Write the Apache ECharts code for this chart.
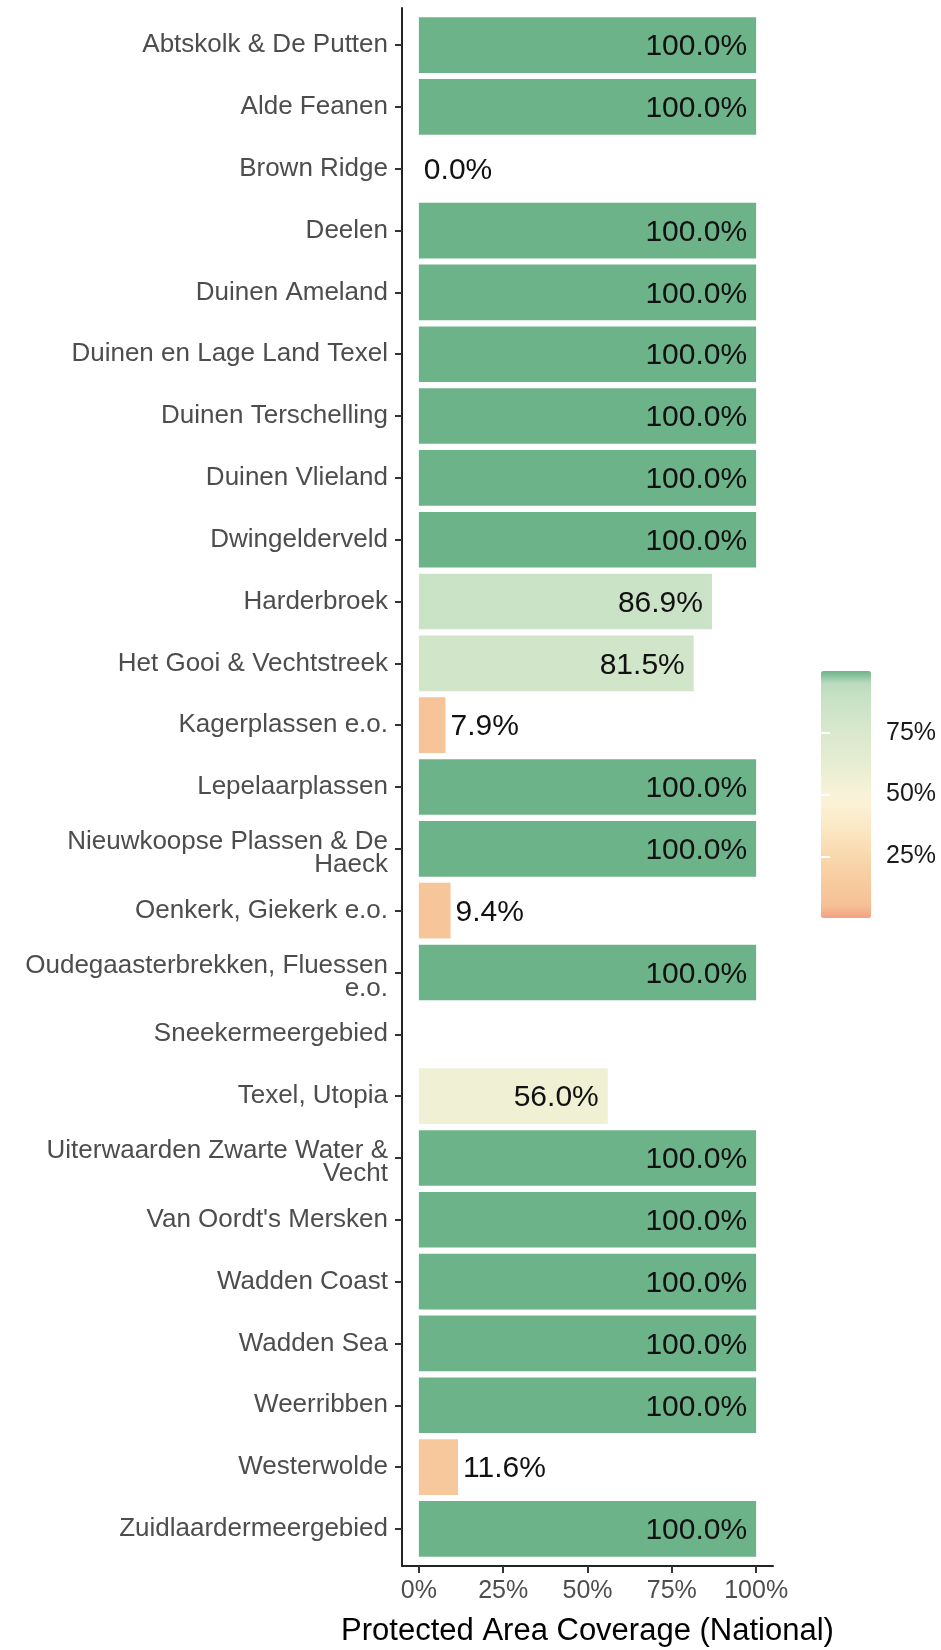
<!DOCTYPE html>
<html>
<head>
<meta charset="utf-8">
<script src="https://cdn.jsdelivr.net/npm/echarts@6/dist/echarts.min.js"></script>
<style>
html,body{margin:0;padding:0;background:#fff;}
#chart{width:941px;height:1650px;}
</style>
</head>
<body>
<div id="chart"></div>
<script>
// ---- data ----
const categories = [
  "Abtskolk & De Putten","Alde Feanen","Brown Ridge","Deelen","Duinen Ameland",
  "Duinen en Lage Land Texel","Duinen Terschelling","Duinen Vlieland","Dwingelderveld",
  "Harderbroek","Het Gooi & Vechtstreek","Kagerplassen e.o.","Lepelaarplassen",
  "Nieuwkoopse Plassen & De\nHaeck","Oenkerk, Giekerk e.o.","Oudegaasterbrekken, Fluessen\ne.o.",
  "Sneekermeergebied","Texel, Utopia","Uiterwaarden Zwarte Water &\nVecht","Van Oordt's Mersken",
  "Wadden Coast","Wadden Sea","Weerribben","Westerwolde","Zuidlaardermeergebied"
];
const coverage = [100,100,0,100,100,100,100,100,100,86.9,81.5,7.9,100,100,9.4,100,null,56.0,100,100,100,100,100,11.6,100];
const xTicks = [0,25,50,75,100];
const legendTicks = [25,50,75];

// colour scale (0..100 in 5% steps)
const scaleColors = ["#F2A084","#F5C196","#F6C69A","#F7CCA0","#F8D2A7","#F9D8AE","#FADFB8","#FBE6C2","#FBEBCB","#FBF0D3","#F9F3DA","#F0F0D4","#EAEED3","#E4ECD1","#DFEACF","#DAE8CD","#D3E6CA","#CDE3C7","#C6E0C4","#BBDBBE","#6DB38A"];

const FONT = "'Liberation Sans', Arial, sans-serif";
const catIdx = categories.map((c,i)=>i);
const seriesData = coverage.map((v,i)=>[v==null?'-':v, i]);

function catLabel(v){
  const c = categories[Math.round(v)];
  if (c === undefined) return '';
  if (c.indexOf('\n') < 0) return c;
  return '{s| }\n' + c.split('\n').map(l=>'{a|'+l+'}').join('\n');
}

const chart = echarts.init(document.getElementById('chart'), null, {renderer:'canvas'});
chart.setOption({
  backgroundColor:'#fff',
  animation:false,
  textStyle:{fontFamily:FONT},
  grid:[
    {left:402, top:8, width:371, height:1558, outerBoundsMode:'none', containLabel:false},
    {left:821, top:671, width:50, height:247, outerBoundsMode:'none', containLabel:false}
  ],
  xAxis:[
    {type:'value', gridIndex:0, min:-5, max:105,
     axisLine:{show:true, onZero:false, lineStyle:{color:'#222', width:2}},
     axisTick:{show:true, length:7, customValues:xTicks, lineStyle:{color:'#333', width:2}},
     axisLabel:{customValues:xTicks, formatter:v=>v+'%', fontSize:25, color:'#4D4D4D', margin:13, fontFamily:FONT},
     splitLine:{show:false},
     name:'Protected Area Coverage (National)', nameLocation:'middle', nameGap:50,
     nameTextStyle:{fontSize:31, color:'#000', fontFamily:FONT}},
    {type:'value', gridIndex:1, min:0, max:1, show:false}
  ],
  yAxis:[
    {type:'value', gridIndex:0, min:-0.6, max:24.6, inverse:true,
     axisLine:{show:true, onZero:false, lineStyle:{color:'#222', width:2}},
     axisTick:{show:true, length:7, customValues:catIdx, lineStyle:{color:'#333', width:2}},
     axisLabel:{customValues:catIdx, formatter:catLabel, fontSize:26, lineHeight:23, color:'#4D4D4D', margin:14, align:'right', fontFamily:FONT,
       rich:{
         a:{fontSize:26, lineHeight:23, color:'#4D4D4D', fontFamily:FONT, align:'right'},
         s:{fontSize:1, lineHeight:9, align:'right'}
       }},
     splitLine:{show:false}},
    {type:'value', gridIndex:1, min:0, max:100, position:'right', z:10,
     axisLine:{show:false},
     axisTick:{show:true, inside:true, length:9, customValues:legendTicks, lineStyle:{color:'#fff', width:2}},
     axisLabel:{customValues:legendTicks, formatter:v=>v+'%', fontSize:25, lineHeight:25, color:'#1a1a1a', margin:15, padding:[14,0,0,0], fontFamily:FONT},
     splitLine:{show:false}},
    {type:'value', gridIndex:1, min:0, max:100, position:'left', z:10,
     axisLine:{show:false},
     axisTick:{show:true, inside:true, length:9, customValues:legendTicks, lineStyle:{color:'#fff', width:2}},
     axisLabel:{show:false},
     splitLine:{show:false}}
  ],
  visualMap:{
    type:'continuous', min:0, max:100, dimension:0, seriesIndex:0,
    left:821, top:671, itemWidth:50, itemHeight:247, padding:0,
    calculable:false, text:null, showLabel:false, hoverLink:false, z:2,
    inRange:{color:scaleColors}
  },
  series:[{
    type:'custom', xAxisIndex:0, yAxisIndex:0,
    data:seriesData,
    encode:{x:0, y:1},
    renderItem:function(params, api){
      const v = api.value(0), i = api.value(1);
      if (v === '-' || v == null || isNaN(v)) return null;
      const p0 = api.coord([0, i]);
      const p1 = api.coord([v, i]);
      const band = Math.abs(api.size([0,1])[1]);
      const h = band*0.9;
      const inside = v >= 50;
      return {type:'group', children:[
        {type:'rect', shape:{x:p0[0], y:p0[1]-h/2, width:p1[0]-p0[0], height:h},
         style:{fill:api.visual('color')}},
        {type:'text', x: inside ? p1[0]-9 : p1[0]+5, y:p1[1]+2,
         style:{text:v.toFixed(1)+'%', fontSize:30, fill:'#111', fontFamily:FONT,
                align: inside ? 'right':'left', verticalAlign:'middle'}}
      ]};
    }
  }]
});
</script>
</body>
</html>
